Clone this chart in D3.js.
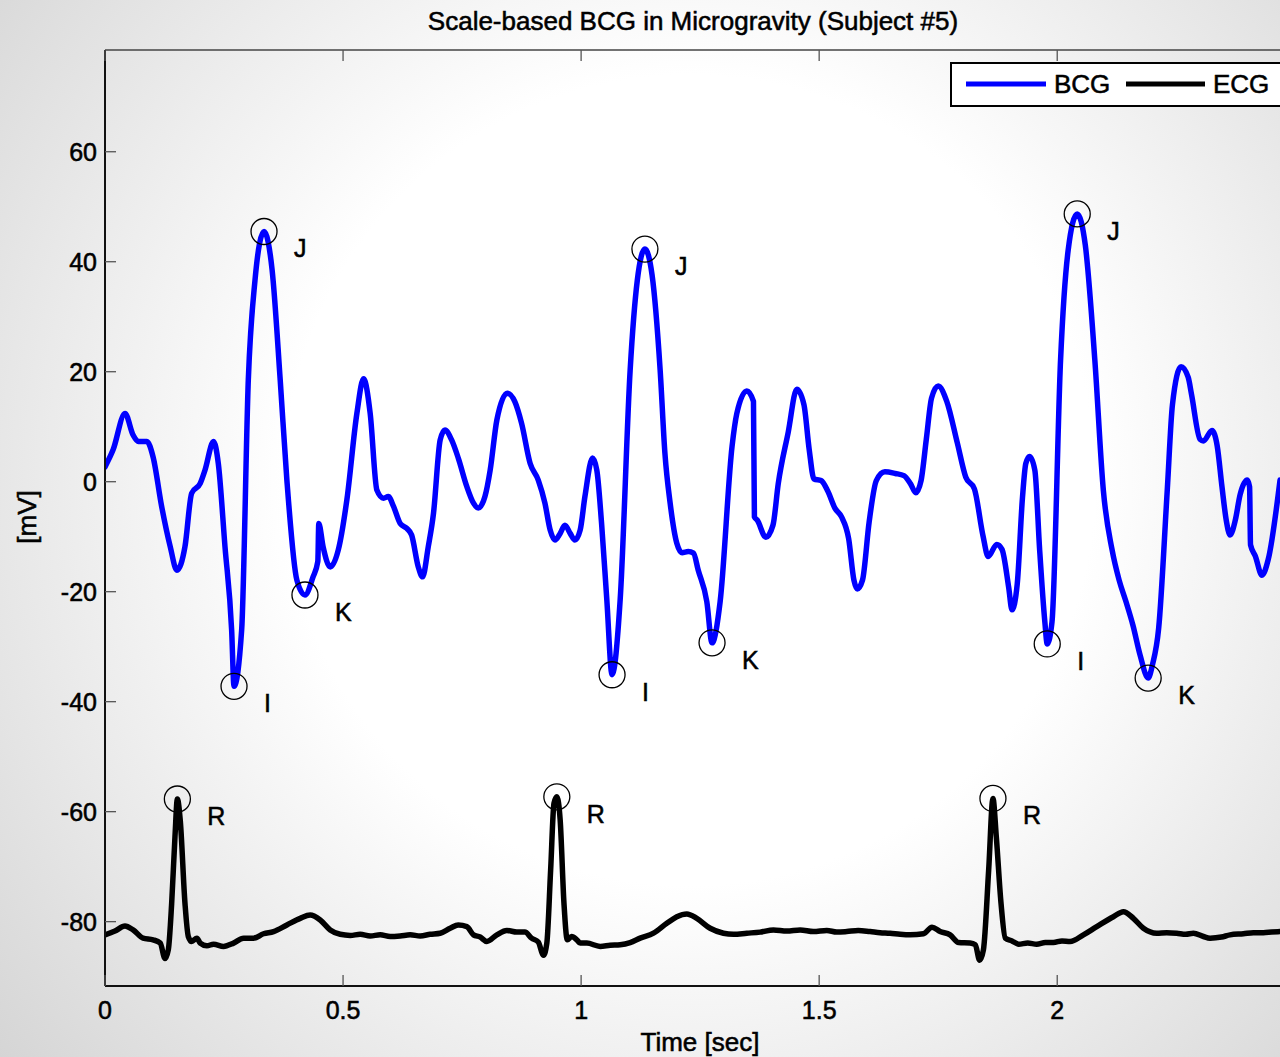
<!DOCTYPE html>
<html>
<head>
<meta charset="utf-8">
<script src="https://cdn.jsdelivr.net/npm/d3@7"></script>
<style>
  html, body { margin: 0; padding: 0; background: #fff; }
  svg { display: block; }
  text { font-family: "Liberation Sans", Arial, Helvetica, sans-serif; fill: #000; stroke: #000; stroke-width: 0.55px; }
</style>
</head>
<body>
<svg id="chart" width="1280" height="1057"></svg>
<script>
// ---- BCG trace (time in sec, amplitude in mV) ----
const bcgTime = [0.000,0.017,0.042,0.059,0.070,0.088,0.101,0.119,0.137,0.151,0.168,0.182,0.200,0.210,0.228,0.238,0.252,0.266,0.271,0.287,0.301,0.315,0.334,0.351,0.368,0.382,0.403,0.420,0.437,0.447,0.449,0.458,0.473,0.490,0.508,0.529,0.543,0.557,0.571,0.585,0.595,0.606,0.620,0.634,0.644,0.658,0.667,0.679,0.690,0.704,0.714,0.728,0.742,0.760,0.774,0.784,0.798,0.809,0.823,0.845,0.861,0.875,0.893,0.910,0.924,0.935,0.945,0.956,0.966,0.977,0.987,0.998,1.008,1.024,1.033,1.043,1.054,1.065,1.082,1.103,1.118,1.134,1.149,1.166,1.176,1.187,1.201,1.212,1.225,1.236,1.246,1.264,1.275,1.292,1.317,1.327,1.348,1.362,1.364,1.370,1.388,1.403,1.414,1.435,1.453,1.468,1.479,1.489,1.504,1.518,1.533,1.547,1.562,1.573,1.580,1.591,1.605,1.620,1.638,1.660,1.678,1.692,1.703,1.714,1.725,1.736,1.750,1.768,1.790,1.808,1.826,1.844,1.855,1.873,1.884,1.898,1.905,1.916,1.927,1.934,1.942,1.953,1.963,1.974,1.979,1.989,2.007,2.023,2.042,2.059,2.079,2.097,2.115,2.130,2.144,2.159,2.174,2.191,2.200,2.213,2.231,2.242,2.260,2.275,2.282,2.300,2.307,2.325,2.336,2.346,2.355,2.363,2.374,2.384,2.399,2.404,2.406,2.416,2.430,2.443,2.468];
const bcgValue = [2.7,5.8,12.4,8.5,7.3,7.3,4.5,-4.5,-11.8,-16.1,-11.8,-2.1,-0.3,2.1,7.3,3.3,-11.8,-27.0,-37.2,-27.0,18.5,36.6,45.5,38.5,18.5,0.3,-17.9,-20.6,-17.3,-14.5,-7.6,-11.8,-15.5,-12.4,-3.3,12.4,18.7,12.4,-1.5,-3.0,-2.7,-4.5,-7.6,-8.5,-9.7,-15.5,-17.3,-11.8,-5.7,7.6,9.4,7.6,4.3,-0.9,-3.9,-4.8,-2.7,2.1,11.2,16.1,14.5,10.6,3.3,0.3,-3.9,-8.8,-10.6,-9.4,-7.9,-9.4,-10.6,-8.8,-2.7,4.3,2.1,-7.6,-21.5,-35.1,-21.5,20.3,36.6,42.3,37.6,20.3,5.2,-3.9,-11.2,-12.9,-12.7,-13.0,-16.1,-21.8,-29.3,-21.8,6.4,12.4,16.5,14.6,-6.4,-7.0,-10.1,-7.9,-0.4,9.0,16.8,14.0,5.9,0.5,0.2,-1.7,-4.8,-6.4,-10.4,-17.9,-19.5,-17.9,-7.3,0.2,1.8,1.5,1.1,-0.4,-2.0,0.2,7.7,15.2,17.4,14.6,7.1,0.8,-1.3,-9.8,-13.6,-11.4,-12.3,-19.2,-23.3,-18.6,-2.9,3.3,4.6,2.1,-12.3,-25.5,-29.5,-25.5,22.1,42.1,48.7,43.0,22.1,-1.7,-12.3,-17.9,-21.7,-26.1,-31.5,-35.7,-33.3,-26.7,-1.7,14.0,20.9,19.0,15.9,7.7,7.4,9.3,6.5,-0.9,-7.0,-9.7,-7.0,-2.4,0.3,-0.9,-11.5,-13.5,-17.0,-14.2,0.3];

// ---- ECG trace (time in sec, amplitude in mV, offset below the BCG) ----
const ecgTime = [0.000,0.021,0.042,0.059,0.080,0.101,0.116,0.126,0.133,0.140,0.147,0.152,0.158,0.168,0.175,0.182,0.193,0.200,0.214,0.228,0.249,0.270,0.291,0.312,0.333,0.354,0.382,0.410,0.431,0.452,0.473,0.494,0.515,0.536,0.557,0.578,0.599,0.620,0.641,0.662,0.683,0.704,0.725,0.742,0.760,0.774,0.788,0.802,0.823,0.844,0.865,0.882,0.896,0.910,0.921,0.928,0.936,0.943,0.949,0.956,0.964,0.971,0.980,0.991,0.998,1.012,1.040,1.061,1.082,1.103,1.124,1.152,1.180,1.201,1.222,1.243,1.271,1.299,1.320,1.348,1.376,1.404,1.432,1.460,1.488,1.516,1.537,1.558,1.582,1.607,1.628,1.649,1.670,1.691,1.719,1.737,1.754,1.775,1.793,1.817,1.828,1.837,1.845,1.856,1.865,1.872,1.882,1.891,1.905,1.919,1.938,1.957,1.975,1.992,2.010,2.027,2.055,2.083,2.118,2.139,2.160,2.181,2.209,2.230,2.251,2.270,2.286,2.307,2.321,2.345,2.363,2.391,2.412,2.433,2.450,2.468];
const ecgValue = [-82.4,-81.7,-80.8,-81.5,-83.0,-83.3,-83.9,-86.7,-85.1,-76.7,-64.5,-57.7,-61.5,-76.7,-82.7,-83.6,-83.0,-83.9,-84.4,-84.1,-84.5,-83.9,-83.0,-83.0,-82.2,-81.8,-80.6,-79.4,-78.8,-79.7,-81.5,-82.3,-82.5,-82.3,-82.6,-82.4,-82.7,-82.6,-82.4,-82.6,-82.3,-82.1,-81.2,-80.6,-80.9,-82.4,-82.8,-83.6,-82.4,-81.6,-81.9,-81.9,-83.0,-83.7,-86.1,-83.9,-70.6,-58.5,-57.3,-61.5,-76.7,-83.3,-82.7,-83.3,-83.9,-83.9,-84.5,-84.3,-84.2,-83.8,-83.0,-82.1,-80.3,-79.1,-78.6,-79.4,-81.2,-82.1,-82.3,-82.1,-81.9,-81.5,-81.7,-81.5,-81.8,-81.6,-81.9,-81.8,-81.6,-81.8,-82.0,-82.1,-82.3,-82.4,-82.2,-81.0,-81.8,-82.4,-83.8,-83.9,-84.2,-87.0,-85.1,-70.6,-57.6,-64.5,-76.7,-83.0,-83.5,-84.1,-83.9,-84.1,-83.8,-83.8,-83.5,-83.6,-82.4,-80.9,-79.1,-78.2,-79.4,-81.2,-82.1,-82.0,-82.1,-82.3,-82.1,-82.7,-83.0,-82.8,-82.4,-82.2,-82.0,-82.0,-81.9,-81.8];

// ---- annotated fiducial points ----
const markLabels = ["J","I","K","J","I","K","J","I","K","R","R","R"];
const markTime   = [0.334,0.271,0.420,1.134,1.065,1.275,2.042,1.979,2.191,0.152,0.949,1.865];
const markValue  = [45.5,-37.2,-20.6,42.3,-35.1,-29.3,48.7,-29.5,-35.7,-57.7,-57.3,-57.6];

// ---- axes ----
const xTicks = [0, 0.5, 1, 1.5, 2];
const xTickLabels = ["0", "0.5", "1", "1.5", "2"];
const yTicks = [-80, -60, -40, -20, 0, 20, 40, 60];
const yTickLabels = ["-80", "-60", "-40", "-20", "0", "20", "40", "60"];
const xDomain = [0, 2.47];
const yDomain = [-91.7, 78.5];

const seriesNames = ["BCG", "ECG"];
const seriesColors = ["#0000ff", "#000000"];

const titleText = "Scale-based BCG in Microgravity (Subject #5)";
const xLabelText = "Time [sec]";
const yLabelText = "[mV]";

// ---- layout ----
const W = 1280, H = 1057;
const plot = { left: 105, top: 50, right: 1281, bottom: 986 };

const svg = d3.select("#chart");

// soft vignette background
const defs = svg.append("defs");
const grad = defs.append("radialGradient")
  .attr("id", "bg")
  .attr("gradientUnits", "userSpaceOnUse")
  .attr("cx", 690).attr("cy", 480).attr("r", 900);
grad.append("stop").attr("offset", "0").attr("stop-color", "#ffffff");
grad.append("stop").attr("offset", "0.45").attr("stop-color", "#ffffff");
grad.append("stop").attr("offset", "1").attr("stop-color", "#d5d5d5");
svg.append("rect").attr("width", W).attr("height", H).attr("fill", "url(#bg)");

const x = d3.scaleLinear().domain(xDomain).range([plot.left, plot.right]);
const y = d3.scaleLinear().domain(yDomain).range([plot.bottom, plot.top]);

const clip = defs.append("clipPath").attr("id", "plotclip");
clip.append("rect")
  .attr("x", plot.left).attr("y", plot.top)
  .attr("width", plot.right - plot.left).attr("height", plot.bottom - plot.top);

// ---- traces ----
const line = d3.line()
  .x(d => x(d[0]))
  .y(d => y(d[1]))
  .curve(d3.curveMonotoneX);

const bcg = bcgTime.map((t, i) => [t, bcgValue[i]]);
const ecg = ecgTime.map((t, i) => [t, ecgValue[i]]);

const traces = svg.append("g").attr("clip-path", "url(#plotclip)");
traces.append("path").datum(bcg)
  .attr("d", line).attr("fill", "none")
  .attr("stroke", seriesColors[0]).attr("stroke-width", 5.5)
  .attr("stroke-linejoin", "round").attr("stroke-linecap", "round");
traces.append("path").datum(ecg)
  .attr("d", line).attr("fill", "none")
  .attr("stroke", seriesColors[1]).attr("stroke-width", 5.5)
  .attr("stroke-linejoin", "round").attr("stroke-linecap", "round");

// ---- markers and their letters ----
const marks = markLabels.map((l, i) => ({ l, t: markTime[i], v: markValue[i] }));
const mg = svg.append("g");
mg.selectAll("circle").data(marks).join("circle")
  .attr("cx", d => x(d.t)).attr("cy", d => y(d.v)).attr("r", 13)
  .attr("fill", "none").attr("stroke", "#000").attr("stroke-width", 1.3);
mg.selectAll("text").data(marks).join("text")
  .attr("x", d => x(d.t) + 30).attr("y", d => y(d.v) + 26)
  .attr("font-size", 25).text(d => d.l);

// ---- axes ----
const axisG = svg.append("g");
// box
axisG.append("line").attr("x1", plot.left).attr("x2", plot.right)
  .attr("y1", plot.top).attr("y2", plot.top).attr("stroke", "#444").attr("stroke-width", 1.5);
axisG.append("line").attr("x1", plot.left).attr("x2", plot.right)
  .attr("y1", plot.bottom).attr("y2", plot.bottom).attr("stroke", "#111").attr("stroke-width", 2);
axisG.append("line").attr("x1", plot.left).attr("x2", plot.left)
  .attr("y1", plot.top).attr("y2", plot.bottom).attr("stroke", "#111").attr("stroke-width", 2);

// inward ticks
const tickLen = 11;
axisG.selectAll(".xtb").data(xTicks).join("line")
  .attr("x1", d => x(d)).attr("x2", d => x(d))
  .attr("y1", plot.bottom).attr("y2", plot.bottom - tickLen)
  .attr("stroke", "#555").attr("stroke-width", 1.3);
axisG.selectAll(".xtt").data(xTicks).join("line")
  .attr("x1", d => x(d)).attr("x2", d => x(d))
  .attr("y1", plot.top).attr("y2", plot.top + tickLen)
  .attr("stroke", "#555").attr("stroke-width", 1.3);
axisG.selectAll(".ytl").data(yTicks).join("line")
  .attr("x1", plot.left).attr("x2", plot.left + tickLen)
  .attr("y1", d => y(d)).attr("y2", d => y(d))
  .attr("stroke", "#555").attr("stroke-width", 1.3);

// tick labels
axisG.selectAll(".xl").data(xTicks).join("text")
  .attr("x", d => x(d)).attr("y", plot.bottom + 33)
  .attr("text-anchor", "middle").attr("font-size", 25)
  .text((d, i) => xTickLabels[i]);
axisG.selectAll(".yl").data(yTicks).join("text")
  .attr("x", plot.left - 8).attr("y", d => y(d) + 9)
  .attr("text-anchor", "end").attr("font-size", 25)
  .text((d, i) => yTickLabels[i]);

// titles
svg.append("text").attr("x", (plot.left + plot.right) / 2).attr("y", 30)
  .attr("text-anchor", "middle").attr("font-size", 26).text(titleText);
svg.append("text").attr("x", 700).attr("y", 1051)
  .attr("text-anchor", "middle").attr("font-size", 26).text(xLabelText);
svg.append("text").attr("transform", "translate(36,517) rotate(-90)")
  .attr("text-anchor", "middle").attr("font-size", 26).text(yLabelText);

// ---- legend ----
const lg = svg.append("g");
lg.append("rect").attr("x", 951).attr("y", 63).attr("width", 340).attr("height", 43)
  .attr("fill", "#fff").attr("stroke", "#000").attr("stroke-width", 2);
const legendItems = [
  { x0: 966, x1: 1046, tx: 1054 },
  { x0: 1126, x1: 1205, tx: 1213 }
];
legendItems.forEach((it, i) => {
  lg.append("line").attr("x1", it.x0).attr("x2", it.x1).attr("y1", 84).attr("y2", 84)
    .attr("stroke", seriesColors[i]).attr("stroke-width", 5);
  lg.append("text").attr("x", it.tx).attr("y", 93).attr("font-size", 26).text(seriesNames[i]);
});
</script>
</body>
</html>
